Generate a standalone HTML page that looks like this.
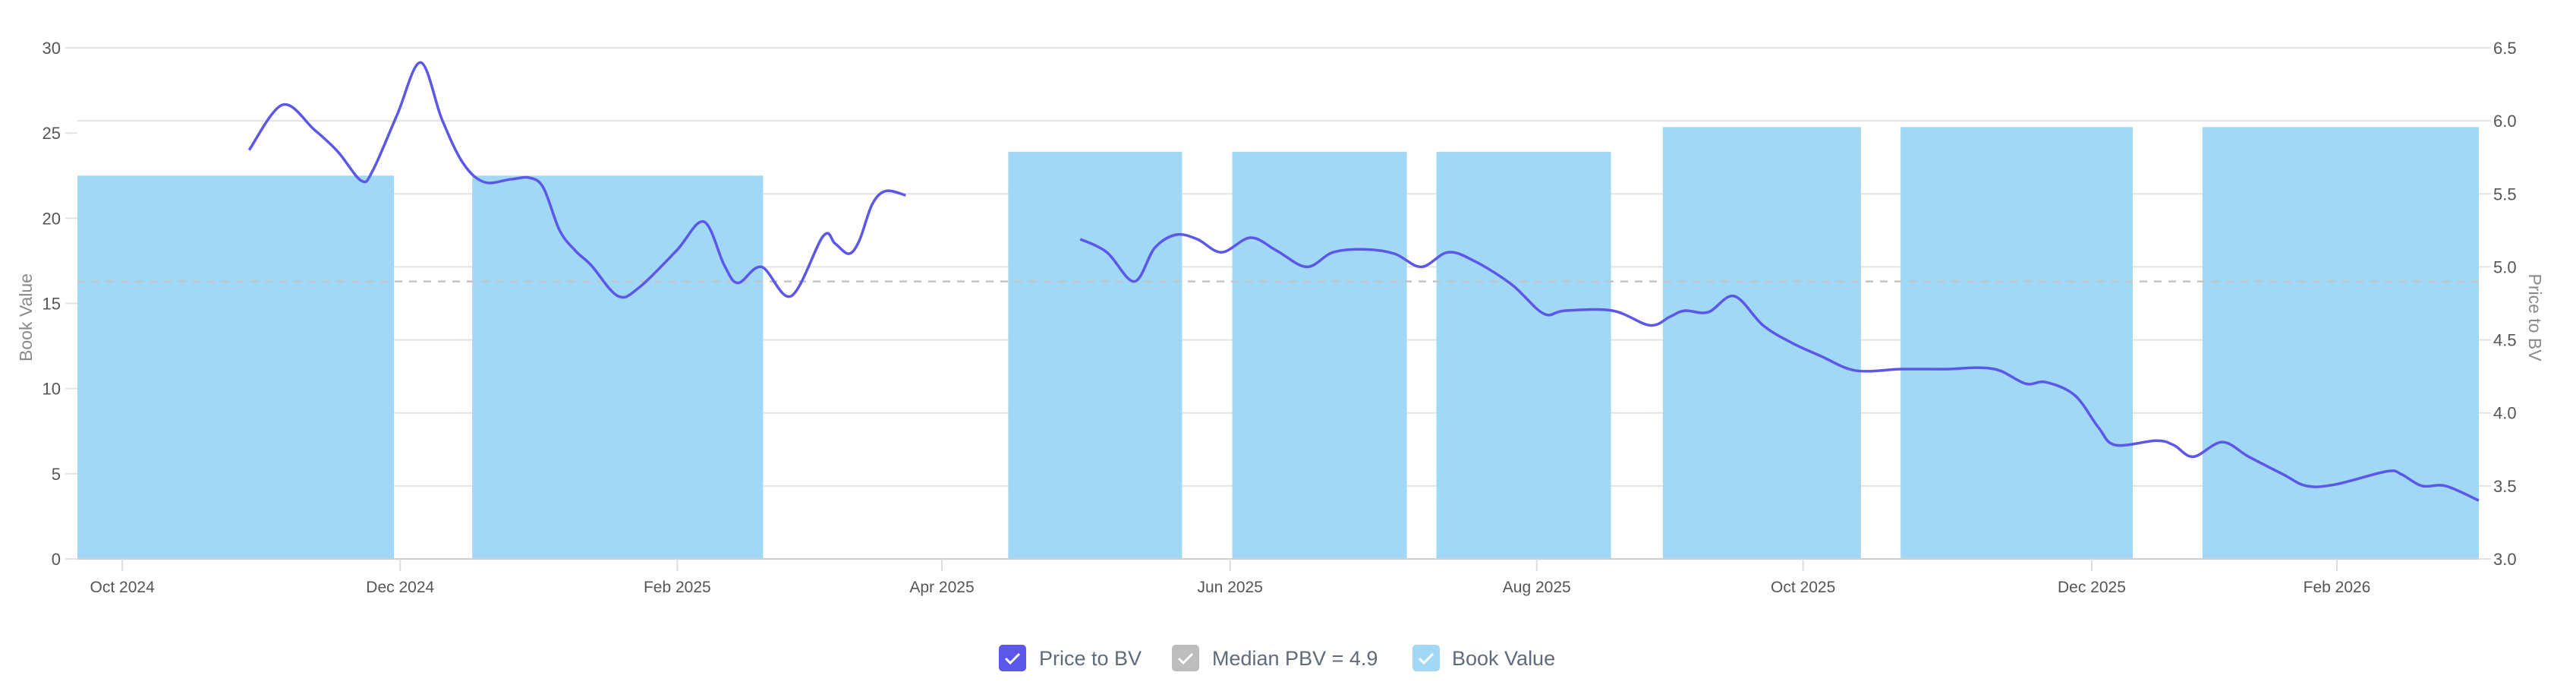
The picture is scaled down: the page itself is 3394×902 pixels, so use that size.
<!DOCTYPE html>
<html><head><meta charset="utf-8"><style>
html,body{margin:0;padding:0;background:#fff;}
svg{display:block;font-family:"Liberation Sans",sans-serif;}
</style></head><body>
<svg id="chart" width="3394" height="902" viewBox="0 0 3394 902">
<g id="grid"></g>
<g id="bars"></g>
<g id="median"></g>
<g id="lines"></g>
<g id="axes"></g>
<text transform="translate(42,418) rotate(-90)" text-anchor="middle" font-size="23" fill="#8a8a8a">Book Value</text>
<text transform="translate(3332,418) rotate(90)" text-anchor="middle" font-size="23" fill="#8a8a8a">Price to BV</text>
<g font-size="27" fill="#5f6b7a">
 <g>
  <rect x="1316" y="849" width="36" height="35" rx="5" fill="#5b57e8"/>
  <path d="M1325 867 l6 6 l12 -12" stroke="#fff" stroke-width="3" fill="none"/>
  <text x="1369" y="876">Price to BV</text>
 </g>
 <g>
  <rect x="1544" y="849" width="36" height="35" rx="5" fill="#bdbdbd"/>
  <path d="M1553 867 l6 6 l12 -12" stroke="#fff" stroke-width="3" fill="none"/>
  <text x="1597" y="876">Median PBV = 4.9</text>
 </g>
 <g>
  <rect x="1861" y="849" width="36" height="35" rx="5" fill="#a1d8f5"/>
  <path d="M1870 867 l6 6 l12 -12" stroke="#fff" stroke-width="3" fill="none"/>
  <text x="1913" y="876">Book Value</text>
 </g>
</g>
</svg>
<script>
// timeline units: 0..100 across plot
const tickLabels = ["Oct 2024","Dec 2024","Feb 2025","Apr 2025","Jun 2025","Aug 2025","Oct 2025","Dec 2025","Feb 2026"];
const tickPos = [1.87,13.44,24.98,36.0,48.0,60.77,71.86,83.88,94.09];
const leftTicks = [0,5,10,15,20,25,30];
const rightTicks = [3.0,3.5,4.0,4.5,5.0,5.5,6.0,6.5];
const barStart = [0,16.44,38.76,48.09,56.59,66.02,75.92,88.49];
const barEnd = [13.18,28.55,46.0,55.36,63.86,74.27,85.59,100];
const bookValue = [22.5,22.5,23.9,23.9,23.9,25.35,25.35,25.35];
const medianPBV = 4.9;
const seg1T = [7.15,8.54,9.86,10.84,11.82,12.30,13.31,14.29,15.18,16.06,16.95,18.05,18.84,19.41,20.08,20.74,21.40,22.51,23.40,24.94,26.08,26.94,27.51,28.49,29.72,31.05,31.55,32.12,32.56,33.10,33.67,34.49];
const seg1V = [5.80,6.11,5.94,5.79,5.59,5.66,6.04,6.40,6.01,5.71,5.58,5.60,5.61,5.54,5.25,5.11,5.01,4.80,4.86,5.11,5.31,5.01,4.89,5.00,4.80,5.21,5.16,5.09,5.18,5.43,5.52,5.49];
const seg2T = [41.76,42.87,44.01,44.86,45.75,46.63,47.65,48.85,49.95,51.19,52.29,53.62,54.85,55.96,57.07,58.17,59.72,61.05,61.94,63.93,65.48,66.33,66.93,67.91,68.99,70.19,71.39,72.59,74.05,75.97,77.90,79.10,80.05,81.13,81.98,83.18,84.16,84.86,86.56,87.29,88.11,89.31,90.42,91.84,92.82,94.02,96.17,96.77,97.63,98.61,100];
const seg2V = [5.19,5.10,4.90,5.13,5.22,5.19,5.10,5.20,5.11,5.00,5.10,5.12,5.09,5.00,5.10,5.04,4.88,4.68,4.70,4.70,4.60,4.66,4.70,4.69,4.80,4.60,4.48,4.39,4.29,4.30,4.30,4.31,4.29,4.20,4.21,4.12,3.90,3.78,3.81,3.78,3.70,3.80,3.70,3.58,3.50,3.51,3.60,3.58,3.50,3.50,3.40];

const X0=102,X1=3266,Y0=736,Y1=63;
const x = t => X0 + (X1-X0)*t/100;
const yL = v => Y0 - (Y0-Y1)*v/30;
const yR = v => Y0 - (Y0-Y1)*(v-3)/3.5;
const NS="http://www.w3.org/2000/svg";
function mk(tag, attrs, parent){const e=document.createElementNS(NS,tag);for(const k in attrs)e.setAttribute(k,attrs[k]);parent.appendChild(e);return e;}
const grid=document.getElementById('grid'),bars=document.getElementById('bars'),axes=document.getElementById('axes'),lines=document.getElementById('lines'),med=document.getElementById('median');

rightTicks.forEach(v=>{
  const g=mk('line',{x1:X0,x2:3282,y1:yR(v),y2:yR(v),stroke:'#e3e3e3','stroke-width':2},grid);
  
  
  const t=mk('text',{x:3285,y:yR(v)+8,'font-size':22,fill:'#555'},axes);
  t.textContent=v.toFixed(1);
  
  
});
leftTicks.forEach(v=>{
  const g=mk('line',{x1:86,x2:X0,y1:yL(v),y2:yL(v),stroke:'#e3e3e3','stroke-width':2},axes);
  
  
  const t=mk('text',{x:80,y:yL(v)+8,'font-size':22,fill:'#555','text-anchor':'end'},axes);
  t.textContent=v;
  
  
});
barStart.forEach((s,i)=>{
  const r=mk('rect',{x:x(s),y:yL(bookValue[i]),width:x(barEnd[i])-x(s),height:Y0-yL(bookValue[i]),fill:'#a1d8f5'},bars);
  
  
});
const ml=mk('line',{x1:X0,x2:X1,y1:yR(medianPBV),y2:yR(medianPBV),stroke:'#c4c4c4','stroke-width':2.5,'stroke-dasharray':'10 9'},med);


const ax=mk('line',{x1:X0,x2:X1,y1:Y0,y2:Y0,stroke:'#d0d0d0','stroke-width':2},axes);


tickLabels.forEach((l,i)=>{
  const tm=mk('line',{x1:x(tickPos[i]),x2:x(tickPos[i]),y1:Y0,y2:752,stroke:'#ddd','stroke-width':2},axes);
  
  
  const t=mk('text',{x:x(tickPos[i]),y:780,'font-size':21,fill:'#555','text-anchor':'middle'},axes);
  t.textContent=l;
  
  
});
function smooth(T,V){
  const p=T.map((t,i)=>[x(t),yR(V[i])]);
  let d='M'+p[0][0]+' '+p[0][1];
  for(let i=0;i<p.length-1;i++){
    const p0=p[i-1]||p[i],p1=p[i],p2=p[i+1],p3=p[i+2]||p2;
    const c1=[p1[0]+(p2[0]-p0[0])/6,p1[1]+(p2[1]-p0[1])/6];
    const c2=[p2[0]-(p3[0]-p1[0])/6,p2[1]-(p3[1]-p1[1])/6];
    d+=` C${c1[0]} ${c1[1]} ${c2[0]} ${c2[1]} ${p2[0]} ${p2[1]}`;
  }
  return d;
}
[[seg1T,seg1V],[seg2T,seg2V]].forEach(([T,V])=>{
  const pth=mk('path',{d:smooth(T,V),fill:'none',stroke:'#5b57e8','stroke-width':3.5,'stroke-linejoin':'round'},lines);
  
  
});
</script>
</body></html>
